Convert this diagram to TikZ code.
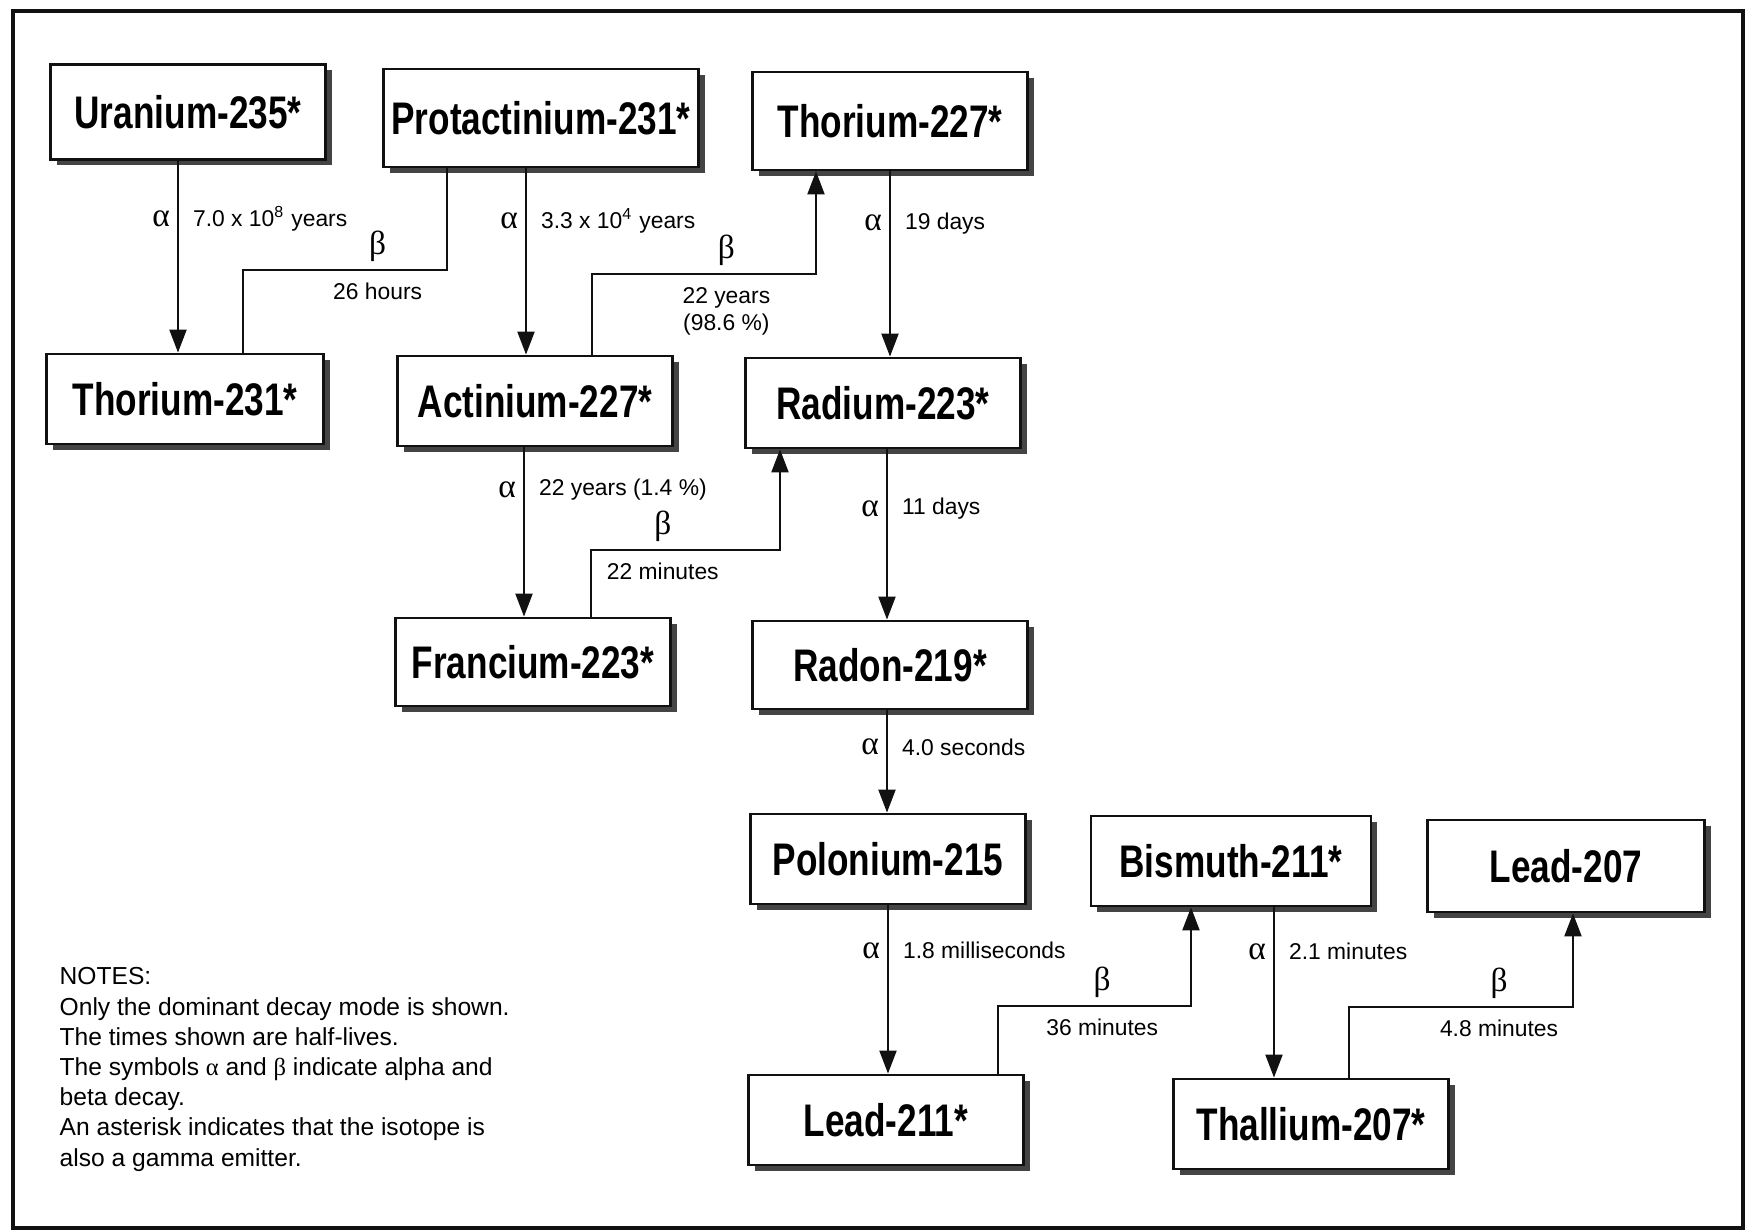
\documentclass[tikz,border=0pt]{standalone}
\usepackage{fontspec}
\setmainfont{Liberation Sans}
\newfontfamily\isofont[FakeStretch=0.77]{Liberation Sans}
\newfontfamily\greekfont{Liberation Serif}
\usetikzlibrary{arrows.meta, shadows}
\definecolor{ink}{HTML}{111111}
\definecolor{shade}{HTML}{444444}
\tikzset{
  iso/.style={
    draw=ink, line width=0.8pt, fill=white,
    minimum width=2.75cm, minimum height=0.9cm, inner sep=0pt,
    font=\isofont\fontsize{13}{15}\selectfont\bfseries,
    drop shadow={shadow xshift=0.06cm, shadow yshift=-0.06cm, fill=shade, opacity=1}
  },
  decay/.style={draw=ink, line width=0.6pt, -{Triangle[length=2.3mm, width=1.7mm]}},
  chain/.style={draw=ink, line width=0.6pt},
  sym/.style={font=\greekfont\fontsize{9.5}{10}\selectfont, inner sep=2pt},
  life/.style={font=\fontsize{6.5}{7.6}\selectfont, inner sep=2pt, align=center},
  notes/.style={font=\fontsize{7}{8.6}\selectfont, align=left, inner sep=0pt}
}

\begin{document}
\begin{tikzpicture}

  \useasboundingbox (0,0) rectangle (17.45,-12.31);
  \draw[ink, line width=1pt] (0.13,-0.11) rectangle (17.43,-12.28);

  % ---- Isotopes -------------------------------------------------------------
  \node[iso, minimum height=0.95cm] (u235) at (1.88,-1.12) {Uranium-235*};
  \node[iso, minimum width=3.15cm, minimum height=0.98cm] (pa231) at (5.41,-1.18) {Protactinium-231*};
  \node[iso, minimum height=0.98cm] (th227) at (8.90,-1.21) {Thorium-227*};
  \node[iso, minimum width=2.77cm] (th231) at (1.85,-3.99) {Thorium-231*};
  \node[iso] (ac227) at (5.35,-4.01) {Actinium-227*};
  \node[iso] (ra223) at (8.83,-4.03) {Radium-223*};
  \node[iso, minimum height=0.88cm] (fr223) at (5.33,-6.62) {Francium-223*};
  \node[iso, minimum height=0.88cm] (rn219) at (8.90,-6.65) {Radon-219*};
  \node[iso] (po215) at (8.88,-8.59) {Polonium-215};
  \node[iso, minimum width=2.8cm] (bi211) at (12.31,-8.61) {Bismuth-211*};
  \node[iso, minimum width=2.77cm, minimum height=0.92cm] (pb207) at (15.66,-8.66) {Lead-207};
  \node[iso] (pb211) at (8.86,-11.20) {Lead-211*};
  \node[iso] (tl207) at (13.11,-11.24) {Thallium-207*};

  % ---- Alpha decays (straight down) ----------------------------------------
  \foreach \src/\dst/\dx/\p/\half in {
      u235/th231/-0.10/0.30/{7.0 x 10\textsuperscript{8} years},
      pa231/ac227/-0.15/0.28/{3.3 x 10\textsuperscript{4} years},
      th227/ra223/0.00/0.28/{19 days},
      ac227/fr223/-0.11/0.25/{22 years (1.4 \%)},
      ra223/rn219/0.04/0.35/{11 days},
      rn219/po215/-0.03/0.36/{4.0 seconds},
      po215/pb211/0.00/0.27/{1.8 milliseconds},
      bi211/tl207/0.43/0.26/{2.1 minutes}} {
    \draw[decay] ([xshift=\dx cm]\src.south)
      -- node[sym, left, pos=\p] {α} node[life, right=2pt, pos=\p] {\half}
      ([xshift=\dx cm]\src.south |- \dst.north);
  }

  % ---- Beta decays (elbow connectors) --------------------------------------
  \coordinate (paB) at (4.47,-2.70);
  \coordinate (thB) at (2.43,-2.70);
  \draw[chain] (paB |- pa231.south) -- (paB)
    -- node[sym, above, pos=0.34] {β} node[life, below=1.5pt, pos=0.34] {26 hours}
    (thB) -- (thB |- th231.north);

  \coordinate (acB) at (5.92,-2.74);
  \coordinate (thC) at (8.16,-2.74);
  \draw[decay] (acB |- ac227.north) -- (acB)
    -- node[sym, above, pos=0.6] {β} node[life, below=1.5pt, pos=0.6] {22 years\\(98.6 \%)}
    (thC) -- (thC |- th227.south);

  \coordinate (frB) at (5.91,-5.50);
  \coordinate (raB) at (7.80,-5.50);
  \draw[decay] (frB |- fr223.north) -- (frB)
    -- node[sym, above, pos=0.38] {β} node[life, below=1.5pt, pos=0.38] {22 minutes}
    (raB) -- (raB |- ra223.south);

  \coordinate (pbB) at (9.98,-10.06);
  \coordinate (biB) at (11.91,-10.06);
  \draw[decay] (pbB |- pb211.north) -- (pbB)
    -- node[sym, above, pos=0.54] {β} node[life, below=1.5pt, pos=0.54] {36 minutes}
    (biB) -- (biB |- bi211.south);

  \coordinate (tlB) at (13.49,-10.07);
  \coordinate (leB) at (15.73,-10.07);
  \draw[decay] (tlB |- tl207.north) -- (tlB)
    -- node[sym, above, pos=0.67] {β} node[life, below=1.5pt, pos=0.67] {4.8 minutes}
    (leB) -- (leB |- pb207.south);

  % ---- Notes ---------------------------------------------------------------
  \node[notes, anchor=north west] (notes) at (0.59,-9.67) {NOTES:\\
    Only the dominant decay mode is shown.\\
    The times shown are half-lives.\\
    The symbols {\greekfont α} and {\greekfont β} indicate alpha and\\
    beta decay.\\
    An asterisk indicates that the isotope is\\
    also a gamma emitter.};

\end{tikzpicture}
\end{document}
